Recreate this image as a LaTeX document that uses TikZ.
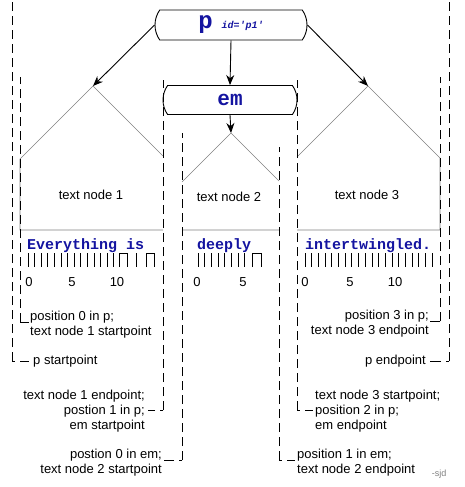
\documentclass[tikz,border=0pt]{standalone}
\usepackage{fontspec}
\setmainfont{Liberation Sans}
\setmonofont{Liberation Mono}
\usetikzlibrary{shapes.misc,arrows.meta}
\definecolor{tagblue}{RGB}{20,20,160}
\begin{document}
\begin{tikzpicture}[>={Stealth[length=10pt,width=8pt]},x=1pt,y=-1pt,inner sep=0pt,
	font=\fontsize{13}{15}\selectfont,
	tag/.style={draw,line width=.9pt,rounded rectangle,rounded rectangle arc length=70,
		text=tagblue,font=\ttfamily\bfseries\fontsize{21}{21}\selectfont},
	roof/.style={draw=gray,line width=.6pt},
	guide/.style={line width=.9pt,dash pattern=on 9pt off 5pt},
	foot/.style={line width=.9pt,dash pattern=on 3pt off 5pt on 20pt},
	tick/.style={line width=.9pt},
	word/.style={anchor=base west,text=tagblue,font=\ttfamily\bfseries\fontsize{15}{15}\selectfont}]
	\useasboundingbox (0,0) rectangle (464,487);
	\node[tag,minimum width=152pt,minimum height=30pt] (p) at (231,25)
		{\fontsize{24}{24}\selectfont p\hspace{9pt}{\fontsize{10}{10}\selectfont\itshape id='p1'}};
	\node[tag,minimum width=134pt,minimum height=29pt] (em) at (230,100) {em};
	\coordinate (t1) at (93,86);
	\coordinate (t2) at (231,133);
	\coordinate (t3) at (368,86);
	\draw[line width=.9pt,->] (p.west) -- (t1);
	\draw[line width=.9pt,->] (p.south) -- (em.north);
	\draw[line width=.9pt,->] (p.east) -- (t3);
	\draw[line width=.9pt,->] (em.south) -- (t2);
	\draw[roof] (163,156) -- (t1) -- (20,159) -- (20,230) -- (163,230);
	\draw[roof] (182,182) -- (t2) -- (279,181) (182,230) -- (279,230);
	\draw[roof] (297,157) -- (t3) -- (440,158) -- (440,230) -- (297,230);
	\node (tn1) at (91,195) {text node 1};
	\node (tn2) at (229,197) {text node 2};
	\node (tn3) at (367,195) {text node 3};
	\node[word] (w1) at (27,249) {Everything is};
	\node[word] (w2) at (197,249) {deeply};
	\node[word] (w3) at (305,249) {intertwingled.};
	\foreach \k in {0,...,13} \draw[tick] ({28+6.6*\k},253) -- ++(0,14);
	\draw[tick] (119,267) |- (127,253) -- (127,267) (136,253) -- (136,267)
		(146,267) |- (154,253) -- (154,267);
	\foreach \k in {0,...,7} \draw[tick] ({198+6.7*\k},253) -- ++(0,14);
	\draw[tick] (252,267) |- (261,253) -- (261,267);
	\foreach \k in {0,...,19} \draw[tick] ({305+6.7*\k},253) -- ++(0,14);
	\node[anchor=base] (a0) at (29,286) {0};
	\node[anchor=base] (a5) at (72,286) {5};
	\node[anchor=base] (a10) at (117,286) {10};
	\node[anchor=base] (b0) at (197,286) {0};
	\node[anchor=base] (b5) at (243,286) {5};
	\node[anchor=base] (c0) at (305,286) {0};
	\node[anchor=base] (c5) at (350,286) {5};
	\node[anchor=base] (c10) at (395,286) {10};
	\node[anchor=north west,align=left] (lp0) at (30,311) {position 0 in p;\\text node 1 startpoint};
	\node[anchor=west] (lps) at (33,361) {p startpoint};
	\node[anchor=north east,align=right] (lp1) at (145,390) {text node 1 endpoint;\\postion 1 in p;\\em startpoint};
	\node[anchor=north east,align=right] (le0) at (162,449) {postion 0 in em;\\text node 2 startpoint};
	\node[anchor=north east,align=right] (lp3) at (429,310) {position 3 in p;\\text node 3 endpoint};
	\node[anchor=east] (lpe) at (426,361) {p endpoint};
	\node[anchor=north west,align=left] (lp2) at (315,390) {text node 3 startpoint;\\position 2 in p;\\em endpoint};
	\node[anchor=north west,align=left] (le1) at (297,449) {position 1 in em;\\text node 2 endpoint};
	\node[gray,font=\fontsize{9}{9}\selectfont] (sjd) at (439,474) {-sjd};
	\coordinate (g1) at (12,0);
	\coordinate (g2) at (20,77);
	\coordinate (g3) at (163,80);
	\coordinate (g4) at (182,133);
	\coordinate (g5) at (279,147);
	\coordinate (g6) at (297,80);
	\coordinate (g7) at (440,77);
	\coordinate (g8) at (449,0);
	\coordinate (f1) at ([xshift=-4pt]lps.west);
	\coordinate (f2) at ([yshift=-11pt,xshift=-1pt]lp0.north west);
	\coordinate (f3) at ([yshift=-20pt,xshift=3pt]lp1.north east);
	\coordinate (f4) at ([yshift=-11pt,xshift=2pt]le0.north east);
	\coordinate (f5) at ([yshift=-11pt,xshift=-2pt]le1.north west);
	\coordinate (f6) at ([yshift=-20pt,xshift=-2pt]lp2.north west);
	\coordinate (f7) at ([yshift=-11pt,xshift=1pt]lp3.north east);
	\coordinate (f8) at ([xshift=4pt]lpe.east);
	\foreach \i in {1,...,8} {
		\draw[guide] (g\i |- f\i) -- (g\i);
	}
	\foreach \i in {1,3,4,5,6,8} {
		\draw[foot] (g\i |- f\i) -- (f\i);
	}
	\draw[line width=.9pt] (g2 |- f2) -- (f2) (g7 |- f7) -- (f7);
\end{tikzpicture}
\end{document}
